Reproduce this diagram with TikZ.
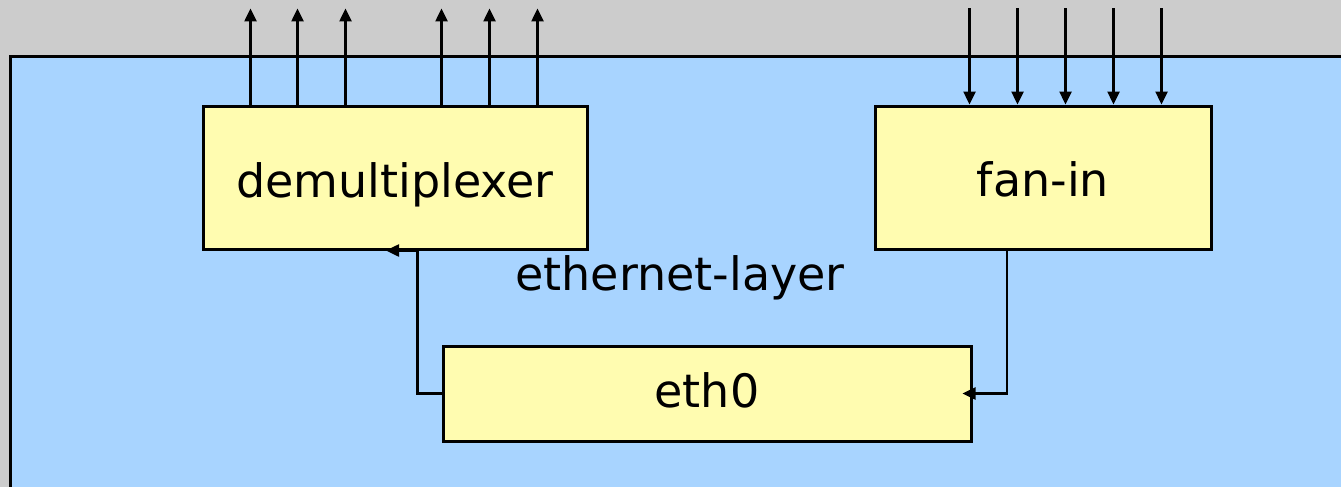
\documentclass[tikz,border=0pt]{standalone}
\usepackage{fontspec}
\setmainfont{DejaVu Sans}
\usetikzlibrary{arrows.meta}
\definecolor{panelgray}{HTML}{CCCCCC}
\definecolor{layerblue}{HTML}{A8D4FF}
\definecolor{boxyellow}{HTML}{FFFCB0}

\begin{document}
\begin{tikzpicture}[x=1pt, y=-1pt,
	font=\fontsize{46}{50}\selectfont,
	block/.style={draw, line width=3pt, fill=boxyellow, inner sep=0pt, text depth=0pt},
	arrow/.style={-{Triangle[length=13pt,width=12pt]}, line width=2.5pt}
	]
	\useasboundingbox (0,0) rectangle (1341,487);
	\fill[panelgray] (0,0) rectangle (1341,487);
	\clip (0,0) rectangle (1341,487);
	
	% Layer area
	\draw[fill=layerblue, line width=3pt] (10,57) rectangle (1380,520);
	\node (layername) at (680,290) [anchor=base] {ethernet-layer};
	
	% Blocks
	\node[block, minimum width=384pt, minimum height=143pt, text height=39pt] (demux) at (395,177.5) {demultiplexer};
	\node[block, minimum width=336pt, minimum height=143pt, text height=37pt] (fanin) at (1043,177.5) {fan-in};
	\node[block, minimum width=528pt, minimum height=95pt, text height=27pt] (eth0) at (707,393.5) {eth0};
	
	% Outputs of the demultiplexer
	\foreach \dx in {49,96,144,240,288,336}
		\draw[arrow] ([xshift=\dx]demux.north west) -- ++(0,-96);
	
	% Inputs of the fan-in
	\foreach \dx in {96,144,192,240,288}
		\draw[arrow] ([xshift=\dx,yshift=96]fanin.north west) -- ([xshift=\dx]fanin.north west);
	
	% Links to eth0
	\draw[arrow] (eth0.west) -- ++(-24,0) |- ([xshift=-9]demux.south);
	\draw[arrow] ([xshift=-36]fanin.south) |- ([xshift=-10]eth0.east);
	
\end{tikzpicture}
\end{document}
